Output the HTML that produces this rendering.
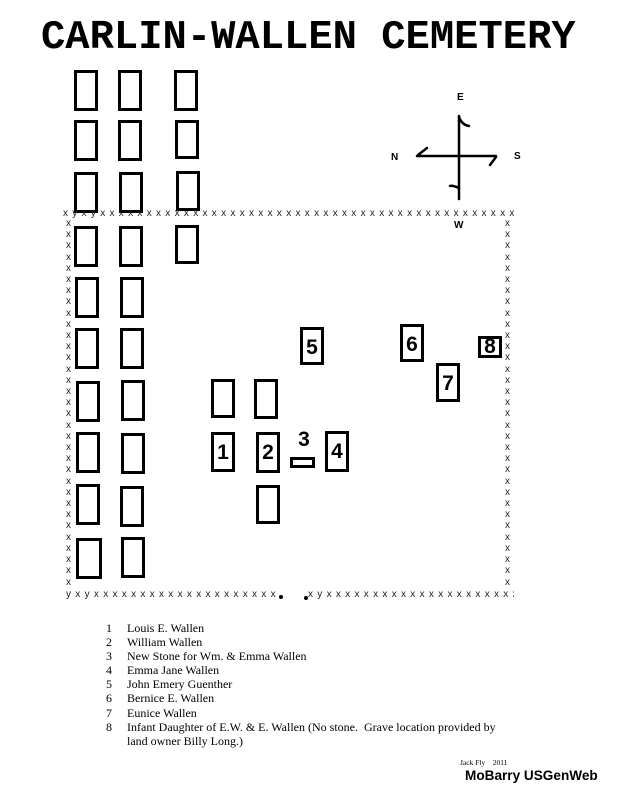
<!DOCTYPE html>
<html><head><meta charset="utf-8"><style>
html,body{margin:0;padding:0;background:#fff;}
body{width:619px;height:800px;position:relative;overflow:hidden;font-family:"Liberation Serif",serif;}
.g{position:absolute;border:3px solid #000;box-sizing:border-box;width:24px;height:41px;}
.n{font-family:"Liberation Sans",sans-serif;font-weight:bold;font-size:21px;text-align:center;line-height:35px;}
.t{position:absolute;}
.fh{position:absolute;font-family:"Liberation Sans",sans-serif;font-size:10px;color:#222;white-space:nowrap;letter-spacing:4.3px;overflow:hidden;height:14px;}
.fv{position:absolute;font-family:"Liberation Sans",sans-serif;font-size:10px;color:#222;width:8px;line-height:11.2px;word-break:break-all;overflow:hidden;}
.leg{position:absolute;left:106px;font-size:12px;line-height:14.1px;top:621px;}
.leg div{position:relative;padding-left:21px;white-space:nowrap;}
.leg span{position:absolute;left:0;}
</style></head><body>
<div class="t" style="left:41px;top:14px;font-family:'Liberation Mono',monospace;font-weight:bold;font-size:40.5px;line-height:48px;">CARLIN-WALLEN CEMETERY</div>

<div class="g" style="left:74px;top:70px"></div><div class="g" style="left:118px;top:70px"></div><div class="g" style="left:174px;top:70px"></div>
<div class="g" style="left:74px;top:120px"></div><div class="g" style="left:118px;top:120px"></div><div class="g" style="left:175px;top:120px;height:39px"></div>
<div class="g" style="left:74px;top:172px"></div><div class="g" style="left:119px;top:172px"></div><div class="g" style="left:176px;top:171px;height:40px"></div>
<div class="g" style="left:74px;top:226px"></div><div class="g" style="left:119px;top:226px"></div><div class="g" style="left:175px;top:225px;height:39px"></div>
<div class="g" style="left:75px;top:277px"></div><div class="g" style="left:120px;top:277px"></div>
<div class="g" style="left:75px;top:328px"></div><div class="g" style="left:120px;top:328px"></div>
<div class="g" style="left:76px;top:381px"></div><div class="g" style="left:121px;top:380px"></div>
<div class="g" style="left:76px;top:432px"></div><div class="g" style="left:121px;top:433px"></div>
<div class="g" style="left:76px;top:484px"></div><div class="g" style="left:120px;top:486px"></div>
<div class="g" style="left:76px;top:538px;width:26px"></div><div class="g" style="left:121px;top:537px"></div>

<div class="g" style="left:211px;top:379px;height:39px"></div>
<div class="g" style="left:254px;top:379px;height:40px"></div>
<div class="g n" style="left:211px;top:432px;height:40px">1</div>
<div class="g n" style="left:256px;top:432px;height:41px">2</div>
<div class="t" style="left:290px;top:457px;width:25px;height:11px;border:3px solid #000;box-sizing:border-box"></div>
<div class="t n" style="left:292px;top:425px;width:24px;font-size:21px;line-height:30px">3</div>
<div class="g n" style="left:325px;top:431px;height:41px">4</div>
<div class="g" style="left:256px;top:485px;height:39px"></div>
<div class="g n" style="left:300px;top:327px;height:38px">5</div>
<div class="g n" style="left:400px;top:324px;height:38px">6</div>
<div class="g n" style="left:436px;top:363px;height:39px">7</div>
<div class="g n" style="left:478px;top:336px;height:22px;line-height:16px;width:24px">8</div>

<div class="fh" style="left:63px;top:208px;width:452px">xyxyxxxxxxxxxxxxxxxxxxxxxxxxxxxxxxxxxxxxxxxxxxxxxxxxxxxxxxxxx</div>
<div class="fh" style="left:66px;top:589px;width:210px">yxyxxxxxxxxxxxxxxxxxxxxxy</div>
<div class="t" style="left:279px;top:595px;width:4px;height:4px;border-radius:50%;background:#000"></div>
<div class="t" style="left:304px;top:596px;width:4px;height:4px;border-radius:50%;background:#000"></div>
<div class="fh" style="left:308px;top:589px;width:206px">xyxxxxxxxxxxxxxxxxxxxxxx</div>
<div class="fv" style="left:66px;top:218px;height:370px">xxxxxxxxxxxxxxxxxxxxxxxxxxxxxxxxxx</div>
<div class="fv" style="left:505px;top:218px;height:370px">xxxxxxxxxxxxxxxxxxxxxxxxxxxxxxxxxx</div>

<svg class="t" style="left:0;top:0" width="619" height="800">
<g stroke="#000" stroke-width="2.5" fill="none" stroke-linecap="round">
<line x1="459" y1="116" x2="459" y2="199"/>
<line x1="417" y1="156" x2="496" y2="156"/>
<path d="M459 117 Q462 125 469 126"/>
<path d="M459 188 Q452 185 450 186"/>
<path d="M418 155 L427 148"/>
<path d="M496 157 L490 165"/>
</g>
<g font-family="Liberation Sans, sans-serif" font-weight="bold" font-size="10">
<text x="457" y="100">E</text><text x="391" y="160">N</text><text x="514" y="159">S</text><text x="454" y="228">W</text>
</g>
</svg>

<div class="leg">
<div><span>1</span>Louis E. Wallen</div>
<div><span>2</span>William Wallen</div>
<div><span>3</span>New Stone for Wm. &amp; Emma Wallen</div>
<div><span>4</span>Emma Jane Wallen</div>
<div><span>5</span>John Emery Guenther</div>
<div><span>6</span>Bernice E. Wallen</div>
<div><span>7</span>Eunice Wallen</div>
<div><span>8</span>Infant Daughter of E.W. &amp; E. Wallen (No stone.&nbsp; Grave location provided by</div>
<div>land owner Billy Long.)</div>
</div>
<div class="t" style="left:460px;top:758px;font-size:7.5px;white-space:nowrap">Jack Fly&nbsp;&nbsp;&nbsp; 2011</div>
<div class="t" style="left:465px;top:768px;font-family:'Liberation Sans',sans-serif;font-weight:bold;font-size:13.6px;white-space:nowrap">MoBarry USGenWeb</div>
</body></html>
